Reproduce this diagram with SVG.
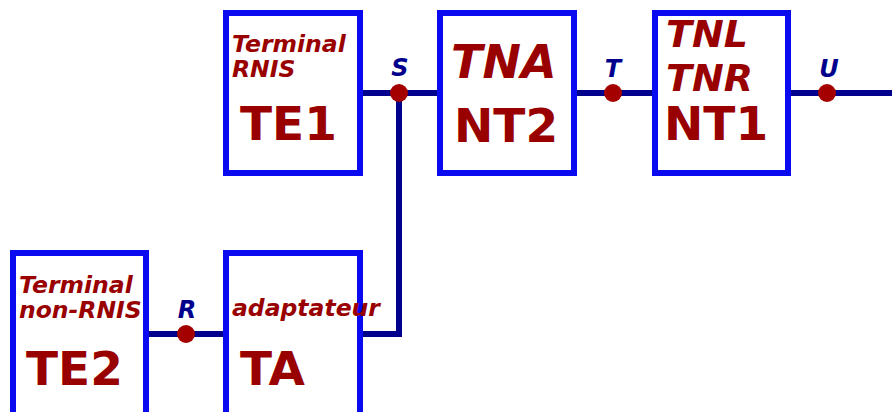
<svg xmlns="http://www.w3.org/2000/svg" width="892" height="412" viewBox="0 0 892 412">
<style>
.box{fill:#fff;stroke:#0a0af0;stroke-width:6}
.wire{fill:none;stroke:#00008c;stroke-width:6}
.dot{fill:#a50000}
.lbl{font-family:"DejaVu Sans",Verdana,sans-serif;font-weight:bold;font-style:italic;font-size:24px;fill:#00008c;text-anchor:middle}
.sm{font-family:"DejaVu Sans",Verdana,sans-serif;font-weight:bold;font-style:italic;font-size:23.5px;fill:#990000}
.big{font-family:"DejaVu Sans",Verdana,sans-serif;font-weight:bold;font-size:47px;fill:#990000}
.bigi{font-family:"DejaVu Sans",Verdana,sans-serif;font-weight:bold;font-style:italic;fill:#990000}
</style>
<rect width="892" height="412" fill="#fff"/>
<g id="connectors">
<path class="wire" d="M363 93H437M577 93H652M791 93H892"/>
<path class="wire" d="M399 93V334H363"/>
<path class="wire" d="M149 334H223"/>
<circle class="dot" cx="399" cy="93" r="9"/>
<circle class="dot" cx="613" cy="93" r="9"/>
<circle class="dot" cx="827" cy="93" r="9"/>
<circle class="dot" cx="186" cy="334" r="9"/>
<text class="lbl" x="400" y="76">S</text>
<text class="lbl" x="613" y="77">T</text>
<text class="lbl" x="829" y="77">U</text>
<text class="lbl" x="187" y="318">R</text>
</g>
<g id="TE1">
<rect class="box" x="226" y="13" width="134" height="160"/>
<text class="sm" x="232" y="52">Terminal</text>
<text class="sm" x="232" y="77">RNIS</text>
<text class="big" x="240" y="140">TE1</text>
</g>
<g id="NT2">
<rect class="box" x="440" y="13" width="134" height="160"/>
<text class="bigi" x="451" y="78" font-size="46">TNA</text>
<text class="big" x="454" y="142">NT2</text>
</g>
<g id="NT1">
<rect class="box" x="655" y="13" width="133" height="160"/>
<text class="bigi" x="666" y="47" font-size="38">TNL</text>
<text class="bigi" x="666" y="91" font-size="38">TNR</text>
<text class="big" x="664" y="140">NT1</text>
</g>
<g id="TE2">
<rect class="box" x="13" y="253" width="133" height="180"/>
<text class="sm" x="19" y="293">Terminal</text>
<text class="sm" x="19" y="318">non-RNIS</text>
<text class="big" x="26" y="385">TE2</text>
</g>
<g id="TA">
<rect class="box" x="226" y="253" width="134" height="180"/>
<text class="sm" x="232" y="316" font-size="20.5">adaptateur</text>
<text class="big" x="240" y="385">TA</text>
</g>
</svg>
